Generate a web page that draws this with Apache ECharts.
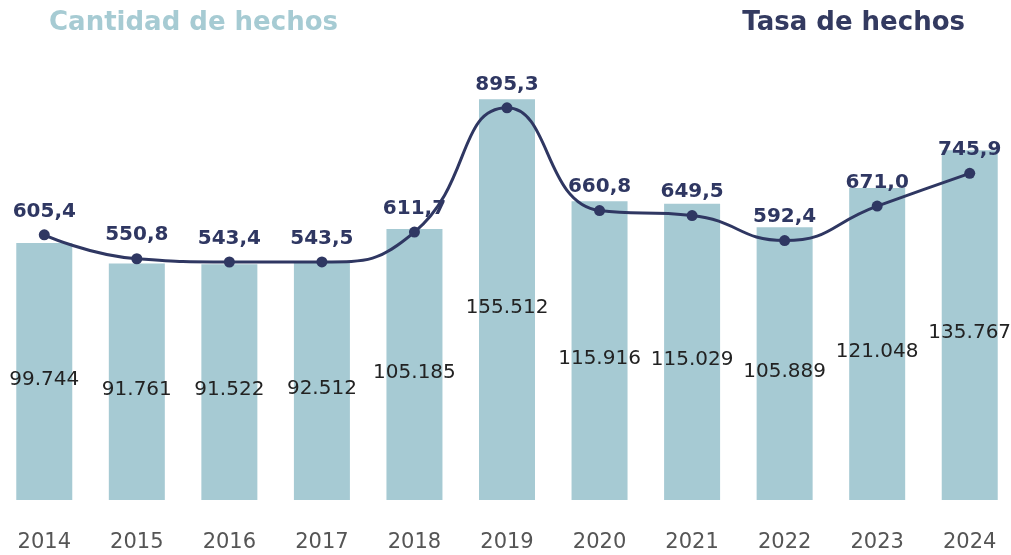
<!DOCTYPE html>
<html>
<head>
<meta charset="utf-8">
<script src="https://cdn.jsdelivr.net/npm/echarts@6/dist/echarts.min.js"></script>
<style>
  html, body { margin: 0; padding: 0; background: #fff; }
  #main { width: 1011px; height: 555px; }
</style>
</head>
<body>
<div id="main"></div>
<script>
var years = ['2014', '2015', '2016', '2017', '2018', '2019', '2020', '2021', '2022', '2023', '2024'];
var cantidad = [99744, 91761, 91522, 92512, 105185, 155512, 115916, 115029, 105889, 121048, 135767];
var tasa = [605.4, 550.8, 543.4, 543.5, 611.7, 895.3, 660.8, 649.5, 592.4, 671.0, 745.9];

var myChart = echarts.init(document.getElementById('main'));

var font = '"DejaVu Sans", sans-serif';

var option = {
    animation: false,
    title: [
        {
            text: 'Cantidad de hechos',
            left: 44, top: 5,
            textStyle: { color: '#a6cbd3', fontSize: 26, fontWeight: 'bold', fontFamily: font }
        },
        {
            text: 'Tasa de hechos',
            right: 41, top: 5,
            textStyle: { color: '#333a60', fontSize: 26, fontWeight: 'bold', fontFamily: font }
        }
    ],
    grid: { left: -2, right: -5, top: 62, bottom: 55, containLabel: false, outerBoundsMode: 'none' },
    xAxis: {
        type: 'category',
        data: years,
        axisLine: { show: false },
        axisTick: { show: false },
        axisLabel: { color: '#555', fontSize: 21, fontFamily: font, margin: 32 }
    },
    yAxis: [
        { type: 'value', min: 0, max: 170000, show: false, splitLine: { show: false } },
        { type: 'value', min: 0, max: 1000, show: false, splitLine: { show: false } }
    ],
    series: [
        {
            name: 'Cantidad de hechos',
            type: 'bar',
            data: cantidad,
            barWidth: 56,
            itemStyle: { color: '#a6cad3' },
            label: {
                show: true,
                position: 'inside',
                offset: [0, 8],
                color: '#222',
                fontSize: 20,
                fontFamily: font,
                formatter: function (p) { return p.value.toLocaleString('de-DE'); }
            }
        },
        {
            name: 'Tasa de hechos',
            type: 'line',
            yAxisIndex: 1,
            data: tasa,
            smooth: 0.5,
            symbol: 'circle',
            symbolSize: 11,
            lineStyle: { color: '#2f3762', width: 3 },
            itemStyle: { color: '#2f3762' },
            label: {
                show: true,
                position: 'top',
                distance: 8,
                color: '#2f3762',
                fontSize: 20,
                fontWeight: 'bold',
                fontFamily: font,
                formatter: function (p) { return p.value.toFixed(1).replace('.', ','); }
            }
        }
    ]
};

myChart.setOption(option);
</script>
</body>
</html>
